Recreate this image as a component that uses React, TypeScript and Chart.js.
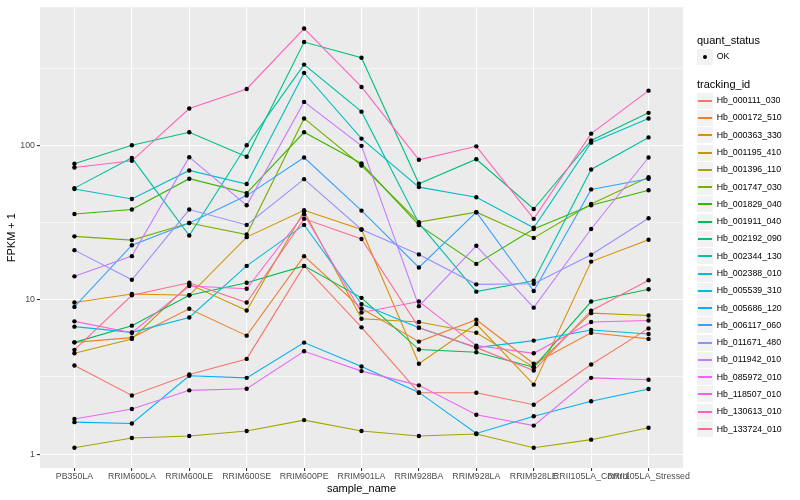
import React, { useEffect, useRef } from 'react';
import { Chart, registerables } from 'chart.js';

Chart.register(...registerables);

const categories = [
  'PB350LA', 'RRIM600LA', 'RRIM600LE', 'RRIM600SE', 'RRIM600PE', 'RRIM901LA',
  'RRIM928BA', 'RRIM928LA', 'RRIM928LE', 'RRII105LA_Control', 'RRII105LA_Stressed',
];

const seriesNames = [
  'Hb_000111_030', 'Hb_000172_510', 'Hb_000363_330', 'Hb_001195_410', 'Hb_001396_110',
  'Hb_001747_030', 'Hb_001829_040', 'Hb_001911_040', 'Hb_002192_090', 'Hb_002344_130',
  'Hb_002388_010', 'Hb_005539_310', 'Hb_005686_120', 'Hb_006117_060', 'Hb_011671_480',
  'Hb_011942_010', 'Hb_085972_010', 'Hb_118507_010', 'Hb_130613_010', 'Hb_133724_010',
];

const seriesColors = [
  '#F8766D', '#EA8331', '#D89000', '#C09B00', '#A3A500',
  '#7CAE00', '#39B600', '#00BB4E', '#00BF7D', '#00C1A3',
  '#00BFC4', '#00BAE0', '#00B0F6', '#35A2FF', '#9590FF',
  '#C77CFF', '#E76BF3', '#FA62DB', '#FF62BC', '#FF6C91',
];

const hb000111 = [3.75, 2.40, 3.28, 4.14, 16.6, 6.63, 2.50, 2.50, 2.09, 3.81, 6.53];
const hb000172 = [5.30, 5.69, 8.75, 5.86, 19.2, 8.79, 5.36, 7.43, 3.85, 6.12, 5.58];
const hb000363 = [9.6, 10.9, 10.7, 25.5, 38.1, 28.6, 3.85, 6.97, 2.82, 17.7, 24.5];
const hb001195 = [4.50, 5.58, 12.6, 8.53, 37.5, 7.54, 7.18, 6.12, 3.66, 8.2, 7.92];
const hb001396 = [1.10, 1.27, 1.31, 1.41, 1.66, 1.41, 1.31, 1.35, 1.10, 1.24, 1.48];
const hb001747 = [25.8, 24.4, 31.5, 26.5, 150, 74.3, 31.9, 37.0, 25.2, 41.8, 62.4];
const hb001829 = [36.0, 38.5, 61.0, 49.2, 122, 76.5, 30.5, 17.1, 28.8, 41.0, 51.3];
const hb001911 = [5.30, 6.8, 10.7, 12.9, 16.6, 10.3, 4.76, 4.57, 3.66, 9.75, 11.7];
const hb002192 = [76.2, 100.4, 121.9, 84.6, 469, 371, 56.6, 81.6, 38.8, 108, 163];
const hb002344 = [53.0, 83.3, 26.1, 100.4, 335, 166, 31.4, 11.3, 13.3, 70, 113];
const hb002388 = [52.3, 45.1, 69, 56.3, 296, 111, 53.8, 46.2, 29.3, 104.5, 150];
const hb005539 = [6.7, 6.15, 7.69, 16.6, 30.6, 9.38, 6.6, 4.9, 5.44, 6.38, 6.0];
const hb005686 = [1.61, 1.58, 3.22, 3.12, 5.28, 3.70, 2.51, 1.36, 1.76, 2.20, 2.64];
const hb006117 = [9.0, 22.6, 31.5, 47.4, 83.7, 37.9, 16.2, 37.0, 11.4, 52.0, 61.0];
const hb011671 = [21.0, 13.5, 38.5, 30.6, 60.6, 28.6, 19.7, 12.6, 12.7, 19.6, 33.8];
const hb011942 = [14.2, 19.2, 84.1, 41.0, 192, 99.6, 9.1, 22.4, 8.9, 28.8, 83.7];
const hb085972 = [1.69, 1.96, 2.59, 2.65, 4.64, 3.45, 2.79, 1.80, 1.53, 3.12, 3.03];
const hb118507 = [7.25, 6.12, 12.3, 11.8, 35.9, 8.28, 9.75, 5.05, 4.5, 7.18, 7.35];
const hb130613 = [72.1, 79.7, 174, 233, 574, 240, 80.9, 98.9, 33.5, 119.5, 227];
const hb133724 = [4.74, 10.7, 12.9, 9.6, 33.5, 24.8, 6.6, 4.9, 3.48, 8.5, 13.4];

const seriesValues = [
  hb000111, hb000172, hb000363, hb001195, hb001396,
  hb001747, hb001829, hb001911, hb002192, hb002344,
  hb002388, hb005539, hb005686, hb006117, hb011671,
  hb011942, hb085972, hb118507, hb130613, hb133724,
];

const yMajorTicks = [1, 10, 100];
const yMinorTicks = [3.1623, 31.623, 316.23];
const yMin = 0.8123;
const yMax = 788.3;

const FONT = '"Liberation Sans", Arial, Helvetica, sans-serif';

const isMajor = (v: number) => yMajorTicks.some((m) => Math.abs(m - v) / m < 1e-3);

const panelBg = {
  id: 'panelBg',
  beforeDraw(chart: any) {
    const { ctx, chartArea } = chart;
    if (!chartArea) return;
    ctx.save();
    ctx.fillStyle = '#EBEBEB';
    ctx.fillRect(chartArea.left, chartArea.top, chartArea.right - chartArea.left, chartArea.bottom - chartArea.top);
    ctx.restore();
  },
};

export default function App() {
  const ref = useRef<HTMLCanvasElement>(null);

  useEffect(() => {
    const canvas = ref.current;
    if (!canvas) return;
    const lineSets = seriesNames.map((name, i) => ({
      type: 'line',
      label: name,
      data: seriesValues[i].map((v, j) => ({ x: j, y: v })),
      borderColor: seriesColors[i],
      backgroundColor: seriesColors[i],
      borderWidth: 1.1,
      pointRadius: 0,
      pointHoverRadius: 0,
      tension: 0,
      fill: false,
      order: seriesNames.length - i,
    }));
    const pointSet = {
      type: 'line',
      label: 'OK',
      data: seriesValues.flatMap((vals) => vals.map((v, j) => ({ x: j, y: v }))),
      showLine: false,
      pointRadius: 2.2,
      pointHoverRadius: 2.2,
      pointBackgroundColor: '#000000',
      pointBorderWidth: 0,
      borderColor: '#000000',
      order: 0,
    };

    const chart = new Chart(canvas, {
      type: 'line',
      data: { datasets: [...lineSets, pointSet] as any },
      plugins: [panelBg],
      options: {
        animation: false,
        responsive: false,
        layout: { padding: { left: 0, top: 5, right: 117, bottom: 0 }, autoPadding: false } as any,
        plugins: { legend: { display: false }, tooltip: { enabled: false } },
        scales: {
          x: {
            type: 'linear',
            min: -0.6,
            max: 10.6,
            afterBuildTicks: (s: any) => {
              s.ticks = categories.map((_, i) => ({ value: i }));
            },
            afterFit: (s: any) => {
              s.height = 32;
            },
            ticks: {
              callback: (v: any) => categories[Math.round(Number(v))] ?? '',
              autoSkip: false,
              maxRotation: 0,
              minRotation: 0,
              color: '#4D4D4D',
              font: { family: FONT, size: 8.8 },
              padding: 0,
            },
            grid: {
              color: '#FFFFFF',
              lineWidth: 1.1,
              tickColor: '#333333',
              tickLength: 3,
              tickWidth: 1.1,
            },
            border: { display: false },
            title: {
              display: true,
              text: 'sample_name',
              color: '#000000',
              font: { family: FONT, size: 11 },
              padding: { top: 0, bottom: 4.4 },
            },
          },
          y: {
            type: 'logarithmic',
            min: yMin,
            max: yMax,
            afterBuildTicks: (s: any) => {
              s.ticks = [...yMajorTicks, ...yMinorTicks].sort((a, b) => a - b).map((v) => ({ value: v }));
            },
            afterFit: (s: any) => {
              s.width = 40;
            },
            ticks: {
              autoSkip: false,
              callback: (v: any) => (isMajor(Number(v)) ? String(Math.round(Number(v))) : ''),
              color: '#4D4D4D',
              font: { family: FONT, size: 8.8 },
              padding: 2,
            },
            grid: {
              color: '#FFFFFF',
              lineWidth: (c: any) => (c.tick && isMajor(c.tick.value) ? 1.1 : 0.55),
              tickColor: (c: any) => (c.tick && isMajor(c.tick.value) ? '#333333' : 'rgba(0,0,0,0)'),
              tickLength: 3,
              tickWidth: 1.1,
            },
            border: { display: false },
            title: {
              display: true,
              text: 'FPKM + 1',
              color: '#000000',
              font: { family: FONT, size: 11 },
              padding: { top: 5.4, bottom: 0 },
            },
          },
        },
      } as any,
    });
    return () => chart.destroy();
  }, []);

  const legendTop = 100.7;
  const legendStep = 17.28;

  return (
    <div style={{ position: 'absolute', left: 0, top: 0, width: 800, height: 500, background: '#FFFFFF', overflow: 'hidden' }}>
      <canvas ref={ref} width={800} height={500} style={{ position: 'absolute', left: 0, top: 0, width: 800, height: 500 }} />
      <div style={{ position: 'absolute', left: 697, top: 33.5, font: `11px ${FONT}`, lineHeight: '13px', color: '#000', whiteSpace: 'nowrap' }}>
        quant_status
      </div>
      <div style={{ position: 'absolute', left: 697, top: 49, width: 16, height: 16, background: '#F2F2F2' }}>
        <div style={{ position: 'absolute', left: 6, top: 6, width: 4.4, height: 4.4, borderRadius: '50%', background: '#000' }} />
      </div>
      <div style={{ position: 'absolute', left: 716.7, top: 51.2, font: `8.8px ${FONT}`, lineHeight: '11px', color: '#000', whiteSpace: 'nowrap' }}>
        OK
      </div>
      <div style={{ position: 'absolute', left: 697, top: 77.8, font: `11px ${FONT}`, lineHeight: '13px', color: '#000', whiteSpace: 'nowrap' }}>
        tracking_id
      </div>
      {seriesNames.map((name, i) => {
        const cy = legendTop + i * legendStep;
        const boxTop = Math.round(cy - 8);
        return (
          <React.Fragment key={name}>
            <div style={{ position: 'absolute', left: 697, top: boxTop, width: 16, height: 16, background: '#F2F2F2' }}>
              <div style={{ position: 'absolute', left: 1, top: 7, width: 14, height: 1.5, background: seriesColors[i] }} />
            </div>
            <div style={{ position: 'absolute', left: 716.7, top: cy - 5.5, font: `8.8px ${FONT}`, lineHeight: '11px', color: '#000', whiteSpace: 'nowrap' }}>
              {name}
            </div>
          </React.Fragment>
        );
      })}
    </div>
  );
}
